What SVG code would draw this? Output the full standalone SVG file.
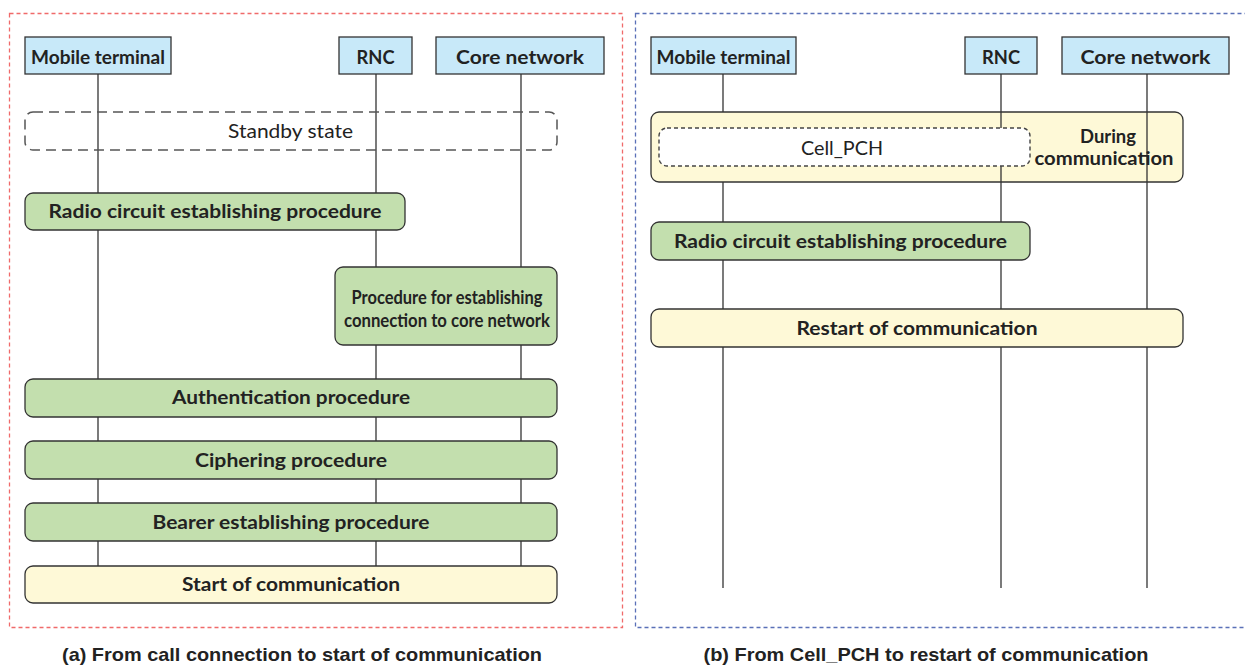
<svg xmlns="http://www.w3.org/2000/svg" width="1245" height="665" viewBox="0 0 1245 665">
<style>
.bg{fill:#ffffff}
.frameA{fill:none;stroke:#f06a6a;stroke-width:1.3;stroke-dasharray:4 3}
.frameB{fill:none;stroke:#5a70b8;stroke-width:1.3;stroke-dasharray:4 3}
.hdr{fill:#c8e9f9;stroke:#333;stroke-width:1.3}
.green{fill:#c3dfae;stroke:#333;stroke-width:1.3}
.yellow{fill:#fef9d7;stroke:#333;stroke-width:1.3}
.dash{fill:none;stroke:#555;stroke-width:1.5;stroke-dasharray:10 6}
.dashw{fill:#ffffff;stroke:#444;stroke-width:1.4;stroke-dasharray:4 3}
.life{stroke:#333;stroke-width:1.3;fill:none}
text{font-family:"Lato","Liberation Sans",sans-serif;fill:#222;text-anchor:middle}
.b{font-weight:bold;font-size:19px}
.r{font-size:19px}
.cap{font-family:"Liberation Sans",sans-serif;font-weight:bold;font-size:19px}
</style>
<rect class="bg" x="0" y="0" width="1245" height="665"/>
<rect class="frameA" x="9.5" y="13.5" width="613" height="614"/>
<rect class="frameB" x="635.5" y="13.5" width="620" height="614"/>

<g id="connectors">
  <line class="life" x1="98" y1="74" x2="98" y2="566"/>
  <line class="life" x1="376" y1="74" x2="376" y2="566"/>
  <line class="life" x1="521" y1="74" x2="521" y2="566"/>
  <line class="life" x1="723" y1="74" x2="723" y2="112"/>
  <line class="life" x1="723" y1="182" x2="723" y2="588"/>
  <line class="life" x1="1001" y1="74" x2="1001" y2="588"/>
  <line class="life" x1="1147" y1="74" x2="1147" y2="588"/>
</g>

<g id="a-mobile"><rect class="hdr" x="25" y="37" width="146" height="37"/><text class="b" x="98" y="63.5" textLength="134" lengthAdjust="spacingAndGlyphs">Mobile terminal</text></g>
<g id="a-rnc"><rect class="hdr" x="339" y="37" width="73" height="37"/><text class="b" x="375.5" y="63.5" textLength="38" lengthAdjust="spacingAndGlyphs">RNC</text></g>
<g id="a-core"><rect class="hdr" x="436" y="37" width="168" height="37"/><text class="b" x="520" y="63.5" textLength="128" lengthAdjust="spacingAndGlyphs">Core network</text></g>

<g id="a-standby"><rect class="dash" x="25" y="112" width="532" height="38" rx="8"/><text class="r" x="290.5" y="138" textLength="125" lengthAdjust="spacingAndGlyphs">Standby state</text></g>
<g id="a-radio"><rect class="green" x="25" y="193" width="380" height="37" rx="8"/><text class="b" x="215" y="218" textLength="333" lengthAdjust="spacingAndGlyphs">Radio circuit establishing procedure</text></g>
<g id="a-conn"><rect class="green" x="335" y="267" width="222" height="78" rx="8"/><text class="b" x="447" y="304" textLength="191" lengthAdjust="spacingAndGlyphs">Procedure for establishing</text><text class="b" x="447" y="327" textLength="206" lengthAdjust="spacingAndGlyphs">connection to core network</text></g>
<g id="a-auth"><rect class="green" x="25" y="379" width="532" height="38" rx="8"/><text class="b" x="291" y="404" textLength="238" lengthAdjust="spacingAndGlyphs">Authentication procedure</text></g>
<g id="a-ciph"><rect class="green" x="25" y="441" width="532" height="38" rx="8"/><text class="b" x="291" y="467" textLength="192" lengthAdjust="spacingAndGlyphs">Ciphering procedure</text></g>
<g id="a-bearer"><rect class="green" x="25" y="503" width="532" height="38" rx="8"/><text class="b" x="291" y="529" textLength="277" lengthAdjust="spacingAndGlyphs">Bearer establishing procedure</text></g>
<g id="a-start"><rect class="yellow" x="25" y="566" width="532" height="37" rx="8"/><text class="b" x="291" y="591" textLength="218" lengthAdjust="spacingAndGlyphs">Start of communication</text></g>

<g id="b-mobile"><rect class="hdr" x="651" y="37" width="145" height="37"/><text class="b" x="723.5" y="63.5" textLength="134" lengthAdjust="spacingAndGlyphs">Mobile terminal</text></g>
<g id="b-rnc"><rect class="hdr" x="965" y="37" width="72" height="37"/><text class="b" x="1001" y="63.5" textLength="38" lengthAdjust="spacingAndGlyphs">RNC</text></g>
<g id="b-core"><rect class="hdr" x="1062" y="37" width="167" height="37"/><text class="b" x="1145.5" y="63.5" textLength="130" lengthAdjust="spacingAndGlyphs">Core network</text></g>

<g id="b-during">
  <rect class="yellow" x="651" y="112" width="532" height="70" rx="8"/>
  <line class="life" x1="1001" y1="112" x2="1001" y2="182"/>
  <line class="life" x1="1147" y1="112" x2="1147" y2="182"/>
  <text class="b" x="1108" y="143" textLength="56" lengthAdjust="spacingAndGlyphs">During</text>
  <text class="b" x="1104" y="164.5" textLength="139" lengthAdjust="spacingAndGlyphs">communication</text>
</g>
<g id="b-cellpch"><rect class="dashw" x="659" y="128" width="371" height="38" rx="8"/><text class="r" x="842" y="154.5" textLength="82" lengthAdjust="spacingAndGlyphs">Cell_PCH</text></g>
<g id="b-radio"><rect class="green" x="651" y="222" width="379" height="38" rx="8"/><text class="b" x="840.5" y="248" textLength="333" lengthAdjust="spacingAndGlyphs">Radio circuit establishing procedure</text></g>
<g id="b-restart"><rect class="yellow" x="651" y="309" width="532" height="38" rx="8"/><text class="b" x="917" y="335" textLength="241" lengthAdjust="spacingAndGlyphs">Restart of communication</text></g>

<text class="cap" x="302" y="661" textLength="480" lengthAdjust="spacingAndGlyphs">(a) From call connection to start of communication</text>
<text class="cap" x="926" y="661" textLength="445" lengthAdjust="spacingAndGlyphs">(b) From Cell_PCH to restart of communication</text>
</svg>
